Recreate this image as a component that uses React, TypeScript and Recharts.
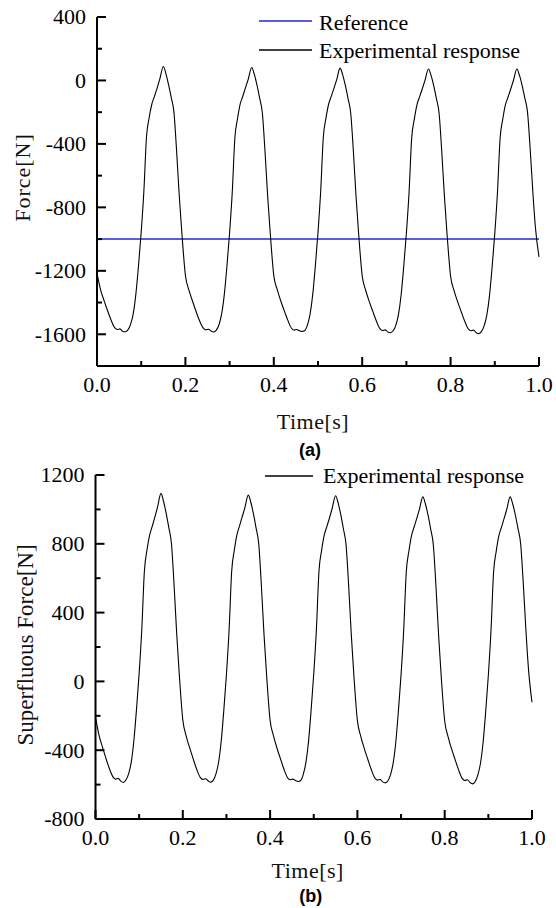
import React from 'react'
import { LineChart, Line, XAxis, YAxis, ReferenceLine } from 'recharts'

// sample instants [s]
const TIME = [
  0, 0.008, 0.016, 0.024, 0.032, 0.04, 0.046, 0.052, 0.058, 0.064, 0.07, 0.076, 0.082, 0.088, 0.094, 0.1,
  0.106, 0.112, 0.118, 0.124, 0.13, 0.136, 0.142, 0.15, 0.156, 0.162, 0.168, 0.174, 0.18, 0.186, 0.192,
  0.2, 0.208, 0.216, 0.224, 0.232, 0.24, 0.246, 0.252, 0.258, 0.264, 0.27, 0.276, 0.282, 0.288, 0.294, 0.3,
  0.306, 0.312, 0.318, 0.324, 0.33, 0.336, 0.342, 0.35, 0.356, 0.362, 0.368, 0.374, 0.38, 0.386, 0.392,
  0.4, 0.408, 0.416, 0.424, 0.432, 0.44, 0.446, 0.452, 0.458, 0.464, 0.47, 0.476, 0.482, 0.488, 0.494, 0.5,
  0.506, 0.512, 0.518, 0.524, 0.53, 0.536, 0.542, 0.55, 0.556, 0.562, 0.568, 0.574, 0.58, 0.586, 0.592,
  0.6, 0.608, 0.616, 0.624, 0.632, 0.64, 0.646, 0.652, 0.658, 0.664, 0.67, 0.676, 0.682, 0.688, 0.694, 0.7,
  0.706, 0.712, 0.718, 0.724, 0.73, 0.736, 0.742, 0.75, 0.756, 0.762, 0.768, 0.774, 0.78, 0.786, 0.792,
  0.8, 0.808, 0.816, 0.824, 0.832, 0.84, 0.846, 0.852, 0.858, 0.864, 0.87, 0.876, 0.882, 0.888, 0.894, 0.9,
  0.906, 0.912, 0.918, 0.924, 0.93, 0.936, 0.942, 0.95, 0.956, 0.962, 0.968, 0.974, 0.98, 0.986, 0.992,
  1.0,
]

// (a) experimental force response [N]
const FORCE = [
  -1216, -1318, -1388, -1452, -1512, -1558, -1570, -1566, -1582, -1584, -1572, -1538, -1470, -1345, -1165, -955,
  -700, -355, -235, -150, -100, -48, 8, 88, 42, -28, -108, -198, -440, -722, -962,
  -1228, -1322, -1390, -1455, -1515, -1560, -1572, -1568, -1580, -1586, -1574, -1540, -1472, -1350, -1170, -960,
  -705, -360, -240, -148, -98, -45, 6, 82, 38, -30, -112, -202, -442, -725, -965,
  -1230, -1320, -1392, -1454, -1514, -1562, -1574, -1570, -1578, -1582, -1576, -1542, -1474, -1352, -1168, -958,
  -702, -358, -238, -150, -100, -50, 2, 78, 34, -32, -114, -205, -445, -728, -968,
  -1232, -1324, -1394, -1456, -1516, -1564, -1576, -1572, -1586, -1590, -1578, -1544, -1476, -1354, -1172, -962,
  -706, -362, -242, -152, -102, -52, 0, 72, 30, -35, -116, -208, -448, -730, -970,
  -1234, -1326, -1396, -1458, -1518, -1566, -1578, -1574, -1590, -1596, -1582, -1546, -1478, -1356, -1174, -964,
  -708, -364, -244, -154, -104, -54, -2, 72, 30, -34, -112, -200, -430, -700, -930,
  -1112,
]

const REFERENCE_FORCE = -1000

// (b) superfluous force [N]
const SUPERFLUOUS = [
  -208, -312, -382, -448, -508, -555, -568, -564, -580, -588, -572, -536, -468, -342, -160, 48,
  300, 640, 765, 850, 902, 955, 1012, 1093, 1046, 976, 894, 802, 560, 278, 38,
  -224, -320, -388, -452, -512, -558, -570, -566, -578, -586, -574, -538, -470, -348, -166, 42,
  296, 640, 762, 852, 904, 956, 1008, 1083, 1040, 972, 890, 798, 558, 275, 36,
  -226, -318, -390, -452, -512, -560, -572, -568, -576, -582, -576, -540, -472, -350, -166, 44,
  298, 642, 762, 850, 900, 950, 1004, 1079, 1036, 968, 886, 795, 555, 272, 32,
  -228, -322, -392, -454, -514, -562, -574, -570, -584, -590, -578, -542, -474, -352, -170, 38,
  294, 638, 758, 848, 898, 948, 1000, 1073, 1030, 965, 884, 792, 552, 270, 30,
  -230, -324, -394, -456, -516, -564, -576, -572, -588, -596, -582, -544, -476, -354, -172, 36,
  292, 636, 756, 846, 896, 946, 998, 1073, 1030, 966, 888, 800, 570, 300, 70,
  -121,
]

const TIME_TICKS = [0, 0.1, 0.2, 0.3, 0.4, 0.5, 0.6, 0.7, 0.8, 0.9, 1.0]
const FORCE_TICKS = [-1800, -1600, -1400, -1200, -1000, -800, -600, -400, -200, 0, 200, 400]
const SUPERFLUOUS_TICKS = [-800, -600, -400, -200, 0, 200, 400, 600, 800, 1000, 1200]

const SERIF = '"Liberation Serif", "Times New Roman", serif'
const SANS = '"Liberation Sans", Arial, sans-serif'
const BLUE = '#2626d8'

const forceData = TIME.map((t, i) => ({ t, force: FORCE[i] }))
const superfluousData = TIME.map((t, i) => ({ t, superfluous: SUPERFLUOUS[i] }))

const axisStyle = { stroke: '#000', strokeWidth: 2 }
const serifText = { fontFamily: SERIF }

// y ticks point inward; labels only every 400 N
function YTick(props: any) {
  const { x, y, payload } = props
  const v = payload.value
  const major = v % 400 === 0
  const axisX = x + 11
  return (
    <g>
      <line x1={axisX} x2={axisX + (major ? 9 : 5)} y1={y} y2={y} stroke="#000" strokeWidth={2} />
      {major && (
        <text x={x} y={y} dy="0.34em" textAnchor="end" style={serifText} fontSize={22} fill="#000">
          {v}
        </text>
      )}
    </g>
  )
}

function XTick(props: any) {
  const { x, y, payload } = props
  const v = payload.value
  const major = Math.round(v * 10) % 2 === 0
  const axisY = y - 10
  return (
    <g>
      <line x1={x} x2={x} y1={axisY} y2={axisY - (major ? 9 : 5)} stroke="#000" strokeWidth={2} />
      {major && (
        <text x={x} y={y} dy="0.71em" textAnchor="middle" style={serifText} fontSize={22} fill="#000">
          {v.toFixed(1)}
        </text>
      )}
    </g>
  )
}

const xTitle = (text: string, caption: string, dx: number, dy: number, cdx: number, cdy: number) =>
  (props: any) => {
    const { x, y, width } = props.viewBox
    const cx = x + width / 2
    return (
      <g>
        <text x={cx + dx} y={y + dy} textAnchor="middle" dominantBaseline="central" style={serifText} fontSize={22} letterSpacing={0.5} fill="#111">
          {text}
        </text>
        <text x={cx + cdx} y={y + cdy} textAnchor="middle" dominantBaseline="central" style={{ fontFamily: SANS }} fontWeight="bold" fontSize={18} fill="#000">
          {caption}
        </text>
      </g>
    )
  }

const yTitle = (text: string, dx: number, dy: number, size: number, spacing: number) =>
  (props: any) => {
    const { x, y, height } = props.viewBox
    const cx = x + dx
    const cy = y + height / 2 + dy
    return (
      <text x={cx} y={cy} textAnchor="middle" dominantBaseline="central" transform={`rotate(-90 ${cx} ${cy})`} style={serifText} fontSize={size} letterSpacing={spacing} fill="#111">
        {text}
      </text>
    )
  }

const LEGEND_A = [
  { name: 'Reference', color: BLUE, lineY: 21, baseY: 30 },
  { name: 'Experimental response', color: '#000', lineY: 50, baseY: 58 },
]
const LEGEND_B = [{ name: 'Experimental response', color: '#000', lineY: 476, baseY: 483 }]

export default function App() {
  return (
    <div style={{ position: 'absolute', left: 0, top: 0, width: 556, height: 908, background: '#fff', overflow: 'hidden' }}>
      <div style={{ position: 'absolute', left: 0, top: 0 }}>
        <LineChart width={556} height={470} data={forceData} margin={{ top: 17, right: 17, bottom: 74, left: 37 }}>
          <XAxis
            dataKey="t"
            type="number"
            domain={[0, 1]}
            ticks={TIME_TICKS}
            interval={0}
            height={30}
            tickSize={0}
            tickMargin={10}
            tickLine={false}
            axisLine={axisStyle}
            tick={<XTick />}
            label={xTitle('Time[s]', '(a)', -5, 55, -8, 84)}
          />
          <YAxis
            type="number"
            domain={[-1800, 400]}
            ticks={FORCE_TICKS}
            interval={0}
            width={60}
            tickSize={0}
            tickMargin={11}
            tickLine={false}
            axisLine={axisStyle}
            tick={<YTick />}
            label={yTitle('Force[N]', -15, -14, 22, 1)}
          />
          <ReferenceLine y={REFERENCE_FORCE} stroke={BLUE} strokeWidth={1.5} />
          <Line type="monotone" dataKey="force" stroke="#000" strokeWidth={1.1} dot={false} isAnimationActive={false} />
        </LineChart>
      </div>
      <div style={{ position: 'absolute', left: 0, top: 460 }}>
        <LineChart width={556} height={448} data={superfluousData} margin={{ top: 15, right: 24, bottom: 59, left: 35.5 }}>
          <XAxis
            dataKey="t"
            type="number"
            domain={[0, 1]}
            ticks={TIME_TICKS}
            interval={0}
            height={30}
            tickSize={0}
            tickMargin={10}
            tickLine={false}
            axisLine={axisStyle}
            tick={<XTick />}
            label={xTitle('Time[s]', '(b)', -6, 51, -3, 77)}
          />
          <YAxis
            type="number"
            domain={[-800, 1200]}
            ticks={SUPERFLUOUS_TICKS}
            interval={0}
            width={60}
            tickSize={0}
            tickMargin={11}
            tickLine={false}
            axisLine={axisStyle}
            tick={<YTick />}
            label={yTitle('Superfluous Force[N]', -10.5, -2, 23, 0)}
          />
          <Line type="monotone" dataKey="superfluous" stroke="#000" strokeWidth={1.1} dot={false} isAnimationActive={false} />
        </LineChart>
      </div>
      <svg width={556} height={908} style={{ position: 'absolute', left: 0, top: 0, pointerEvents: 'none' }}>
        {LEGEND_A.map((d) => (
          <g key={d.name}>
            <line x1={259} x2={312} y1={d.lineY} y2={d.lineY} stroke={d.color} strokeWidth={1.3} />
            <text x={319} y={d.baseY} style={serifText} fontSize={22} fill="#000">{d.name}</text>
          </g>
        ))}
        {LEGEND_B.map((d) => (
          <g key={d.name}>
            <line x1={265} x2={313} y1={d.lineY} y2={d.lineY} stroke={d.color} strokeWidth={1.3} />
            <text x={323} y={d.baseY} style={serifText} fontSize={22} fill="#000">{d.name}</text>
          </g>
        ))}
      </svg>
    </div>
  )
}
